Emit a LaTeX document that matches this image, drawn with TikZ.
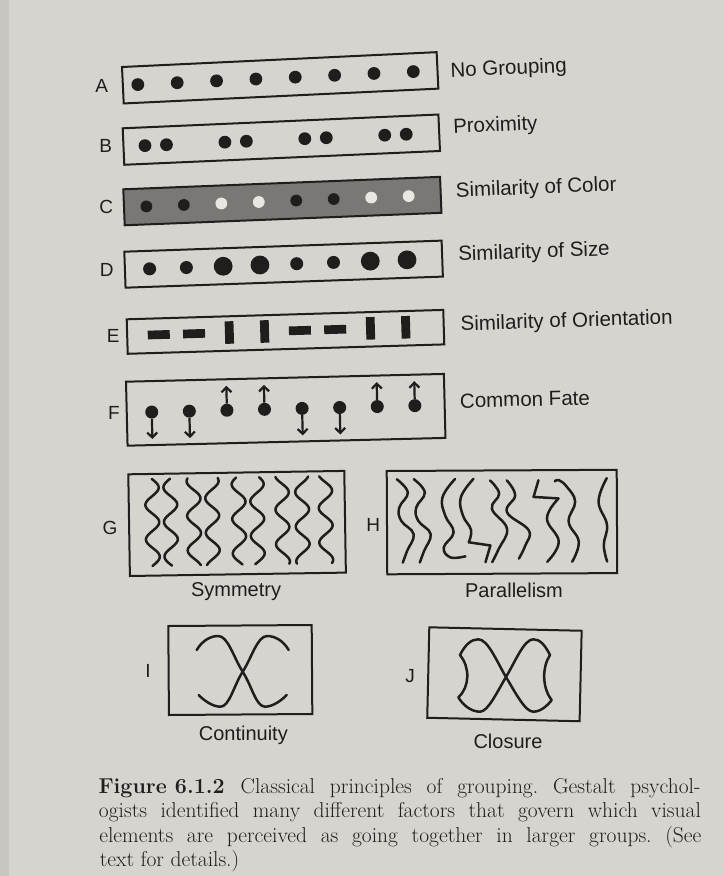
\documentclass[tikz,border=0pt]{standalone}
\usepackage{fontspec}
\setsansfont{Liberation Sans}
\usetikzlibrary{arrows.meta}
\definecolor{page}{RGB}{214,212,207}
\definecolor{edge}{RGB}{200,198,193}
\definecolor{ink}{RGB}{32,30,29}
\definecolor{cfill}{RGB}{122,120,117}
\definecolor{lightdot}{RGB}{232,231,226}
\tikzset{
  panel/.style={draw=ink, line width=2pt},
  letter/.style={font=\sffamily\fontsize{19}{22}\selectfont, text=ink, inner sep=0pt},
  title/.style={font=\sffamily\fontsize{20.5}{24}\selectfont, text=ink, inner sep=0pt, anchor=base west},
  under/.style={font=\sffamily\fontsize{20}{24}\selectfont, text=ink, inner sep=0pt},
  dotn/.style={circle, fill=ink, inner sep=0pt, minimum size=13pt},
  wave/.style={draw=ink, line width=2.5pt, line cap=round, line join=round},
  arr/.style={draw=ink, line width=2.2pt, -{Straight Barb[length=5pt, width=10pt, line width=2.2pt]}},
  captext/.style={font=\fontsize{21.5}{25}\selectfont\frenchspacing\addfontfeature{FakeBold=0.3}, text=ink, inner sep=0pt, anchor=base west},
}
\begin{document}
\begin{tikzpicture}[x=1pt,y=-1pt]
\fill[page] (0,0) rectangle (723,876);
\fill[edge] (0,0) rectangle (9,876);
\useasboundingbox (0,0) rectangle (723,876);

% ---------- left letters ----------
\node[letter] (lA) at (101.7,85.8) {A};
\node[letter] (lB) at (105.7,145.7) {B};
\node[letter] (lC) at (106.3,206.7) {C};
\node[letter] (lD) at (106.7,270) {D};
\node[letter] (lE) at (113.3,336.3) {E};
\node[letter] (lF) at (114,413) {F};
\node[letter] (lG) at (110,528.3) {G};
\node[letter] (lH) at (373.3,525) {H};
\node[letter] (lI) at (148,671) {I};
\node[letter] (lJ) at (410,676) {J};

% ---------- right titles ----------
\node[title, rotate=2.6] (tA) at (450.7,77.3) {No Grouping};
\node[title, rotate=2.5] (tB) at (453.3,133.3) {Proximity};
\node[title, rotate=2.3] (tC) at (456,197.3) {Similarity of Color};
\node[title, rotate=2.0] (tD) at (458.3,260.7) {Similarity of Size};
\node[title, rotate=1.8] (tE) at (460.7,330.7) {Similarity of Orientation};
\node[title, rotate=1.4] (tF) at (460,408) {Common Fate};

% ---------- A ----------
\begin{scope}[shift={(122,67)}, rotate=2.7]
  \draw[panel] (0,0) rectangle (315,36.5);
  \foreach \i in {0,...,7} \fill[ink] ({15+39.4*\i},18.3) circle[radius=6.4];
\end{scope}

% ---------- B ----------
\begin{scope}[shift={(122.7,128.3)}, rotate=2.5]
  \draw[panel] (0,0) rectangle (316,36.5);
  \foreach \k in {0,...,3} {
    \fill[ink] ({21.5+80*\k},18.3) circle[radius=6.4];
    \fill[ink] ({43+80*\k},18.3) circle[radius=6.4];
  }
\end{scope}

% ---------- C ----------
\begin{scope}[shift={(123.3,189.3)}, rotate=2.25]
  \draw[panel, fill=cfill] (0,0) rectangle (317,36);
  \foreach \i/\c in {0/ink,1/ink,2/lightdot,3/lightdot,4/ink,5/ink,6/lightdot,7/lightdot}
    \fill[\c] ({22.4+37.5*\i},18) circle[radius=5.9];
\end{scope}

% ---------- D ----------
\begin{scope}[shift={(124.3,251.7)}, rotate=2.0]
  \draw[panel] (0,0) rectangle (317.5,36);
  \foreach \i/\r in {0/6.5,1/6.5,2/9.4,3/9.4,4/6.5,5/6.5,6/9.4,7/9.4}
    \fill[ink] ({24.7+36.8*\i},18) circle[radius=\r];
\end{scope}

% ---------- E ----------
\begin{scope}[shift={(126.7,319.3)}, rotate=1.7]
  \draw[panel] (0,0) rectangle (316.7,34.5);
  \foreach \i in {0,1,4,5}
    \fill[ink] ({31.6+35.3*\i-11},12) rectangle ({31.6+35.3*\i+11},20.7);
  \foreach \i in {2,3,6,7}
    \fill[ink] ({31.6+35.3*\i-4.4},5) rectangle ({31.6+35.3*\i+4.4},27.5);
\end{scope}

% ---------- F ----------
\begin{scope}[shift={(126,381.7)}, rotate=1.4]
  \draw[panel] (0,0) rectangle (318,64);
  \foreach \i/\d in {1/58,2/58,3/6.5,4/6.5,5/58,6/58,7/6.5,8/6.5} {
    \node[dotn] (f\i) at ({25+37.6*(\i-1)},31) {};
    \coordinate (g\i) at ({25+37.6*(\i-1)},\d);
    \draw[arr] (f\i) -- (g\i);
  }
\end{scope}

% ---------- G : symmetry ----------
\begin{scope}[shift={(128.3,474.3)}, rotate=0.9]
  \draw[panel] (0,0) rectangle (216,101.7);
  \foreach \c/\s/\ph in {23.4/1/0, 41.7/-1/0, 65/-1/60, 83.4/1/60, 110/1/200, 128.4/-1/200, 153.4/-1/110, 173.4/1/110, 196.7/1/300}
    \draw[wave] plot[domain=5:92, samples=60, smooth] ({\c+\s*6.8*sin((\x-5)*10.4+\ph)}, \x);
\end{scope}
\node[under] (sym) at (236,592) {Symmetry};

% ---------- H : parallelism ----------
\begin{scope}[shift={(386.7,468.3)}, rotate=0.3]
  \draw[panel] (0,2.7) rectangle (230,106);
  % pair 1
  \foreach \d in {0,17}
    \draw[wave, shift={(\d,0)}] plot[smooth, tension=0.7] coordinates {(10,11) (21,24.4) (12.3,39.4) (14.3,52.7) (26.6,66) (20,82.7) (15.6,94.4)};
  % pair 2
  \draw[wave] plot[smooth, tension=0.7] coordinates {(68.3,11) (55.6,29.4) (58.3,47.7) (66.6,64.4) (56.6,79.4) (63.3,89.4) (78.3,88.4)};
  \draw[wave] plot[smooth, tension=0.7] coordinates {(86.7,11) (74,29.4) (76,47.7) (84,62) (81.6,74.4)} -- (103.3,77.7) -- (98.3,94.4);
  % pair 3
  \draw[wave] plot[smooth, tension=0.7] coordinates {(103.3,12.7) (112.3,26) (105,41) (120,61) (111.7,81) (105,94.4)};
  \draw[wave] plot[smooth, tension=0.7] coordinates {(120,12.7) (128.3,27.7) (120,44.4) (141.7,62.7) (138.3,77.7) (131.7,91)};
  % pair 4
  \draw[wave] plot[smooth, tension=0.7] coordinates {(151.7,12.7) (146.7,29.4)} -- (171.7,31) plot[smooth, tension=0.7] coordinates {(171.7,31) (160,51) (171.7,74.4) (160,94.4)};
  \draw[wave] plot[smooth, tension=0.7] coordinates {(168,14) (172,12.7) (180,19.4) (188.3,34.4) (181.7,54.4) (191.7,74.4) (185,94.4)};
  % single
  \draw[wave] plot[smooth, tension=0.7] coordinates {(220,11) (211.7,34.4) (220,57.7) (216.7,77.7) (220,94.4)};
\end{scope}
\node[under] (par) at (514,590) {Parallelism};

% ---------- I : continuity ----------
\begin{scope}[shift={(168.3,626)}, rotate=0.4]
  \draw[panel] (0,0) rectangle (143.4,89);
\end{scope}
\draw[wave] (196.7,650) .. controls (202,641) and (210,636) .. (218.3,636)
  .. controls (228,636) and (233.7,657.7) .. (242.7,671.7)
  .. controls (251.7,685.7) and (256,706.7) .. (265,706.7)
  .. controls (273,706.7) and (282,700) .. (286.7,695);
\draw[wave] (288.7,650) .. controls (283.4,641) and (275.4,636) .. (267.1,636)
  .. controls (257.4,636) and (251.7,657.7) .. (242.7,671.7)
  .. controls (233.7,685.7) and (229.4,706.7) .. (220.4,706.7)
  .. controls (212.4,706.7) and (203.4,700) .. (198.7,695);
\node[under] (con) at (243.3,735) {Continuity};

% ---------- J : closure ----------
\begin{scope}[shift={(429.3,627.3)}, rotate=-1.3]
  \draw[panel] (0,0) rectangle (152.4,90.5);
\end{scope}
\draw[wave] (460,655) .. controls (465,645) and (471,639.3) .. (478.3,639.3)
  .. controls (488,639.3) and (497,662) .. (506,677)
  .. controls (515,692) and (525,711.7) .. (533.3,711.7)
  .. controls (541,711.7) and (548,705) .. (551.7,700)
  .. controls (542,688) and (542,667) .. (550,655)
  .. controls (545,645) and (540,639.3) .. (533.3,639.3)
  .. controls (524,639.3) and (515,662) .. (506,677)
  .. controls (497,692) and (488,711.7) .. (480,711.7)
  .. controls (471,711.7) and (463,705) .. (458.3,697.3)
  .. controls (470,687) and (470,667) .. (460,655) -- cycle;
\node[under] (clo) at (508,741.7) {Closure};

% ---------- caption ----------
\begin{scope}[shift={(98.3,793.3)}, rotate=1.0]
  \node[captext] (c1) at (0,0) {\makebox[602pt][s]{\mbox{\textbf{Figure 6.1.2}}\hspace{16pt}Classical principles of grouping. Gestalt psychol-}};
  \node[captext] (c2) at (0,24.5) {\makebox[602pt][s]{ogists identified many different factors that govern which visual}};
  \node[captext] (c3) at (0,49) {\makebox[602pt][s]{elements are perceived as going together in larger groups. (See}};
  \node[captext] (c4) at (0,73.5) {text for details.)};
\end{scope}
\end{tikzpicture}
\end{document}
